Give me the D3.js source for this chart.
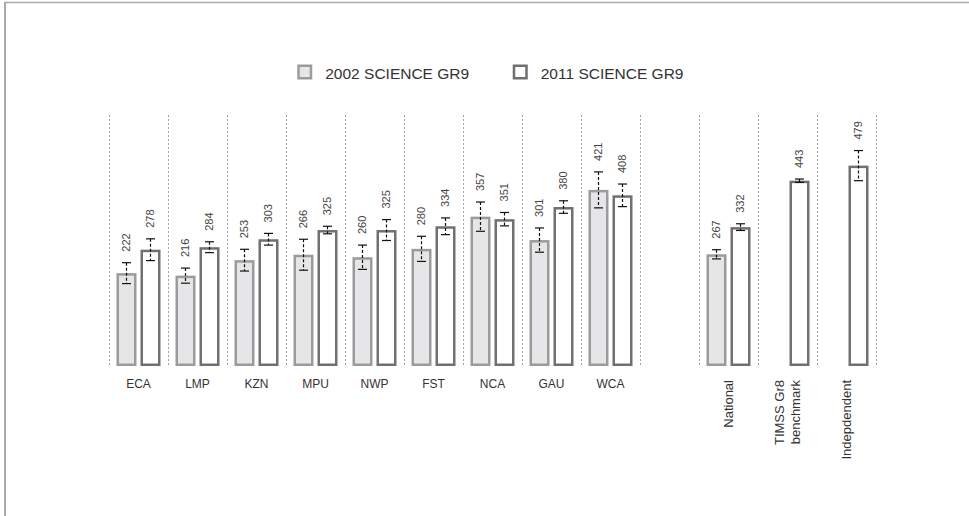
<!DOCTYPE html>
<html>
<head>
<meta charset="utf-8">
<script src="https://cdn.jsdelivr.net/npm/d3@7/dist/d3.min.js"></script>
<style>
  html, body { margin: 0; padding: 0; background: #fff; }
  svg { display: block; font-family: "Liberation Sans", Arial, sans-serif; }
</style>
</head>
<body>
<svg id="chart" width="969" height="516"></svg>
<script>
// ---- data ----
const categories = ["ECA", "LMP", "KZN", "MPU", "NWP", "FST", "NCA", "GAU", "WCA", "National", "TIMSS Gr8 benchmark", "Indepdendent"];
const rotatedCategories = ["National", "TIMSS Gr8 benchmark", "Indepdendent"];
const seriesNames = ["2002 SCIENCE GR9", "2011 SCIENCE GR9"];
const values2002 = [222, 216, 253, 266, 260, 280, 357, 301, 421, 267, null, null];
const values2011 = [278, 284, 303, 325, 325, 334, 351, 380, 408, 332, 443, 479];
const err2002 = [25, 18, 26, 37, 29, 30, 35, 29, 43, 11, null, null];
const err2011 = [26, 13, 14, 9, 25, 20, 16, 15, 27, 8, 4, 36];

// ---- layout ----
const svg = d3.select("#chart");
const W = 969, H = 516;
const SPACER = "__gap__";
const domain = categories.slice(0, 9).concat([SPACER]).concat(categories.slice(9));

const x = d3.scaleBand().domain(domain).range([109, 876]).padding(0);
const xs = d3.scaleBand().domain(["2002", "2011"]).range([0, x.bandwidth()])
  .paddingInner(1 / 6).paddingOuter(0.3125);
const y = d3.scaleLinear().domain([0, 600]).range([366, 115]);

const styles = {
  "2002": { fill: "#e6e6e8", stroke: "#9b9b9b" },
  "2011": { fill: "#ffffff", stroke: "#707070" }
};
const SW = 2.5;

// frame
svg.append("line").attr("x1", 4).attr("x2", W).attr("y1", 2.5).attr("y2", 2.5)
  .attr("stroke", "#aaaaaa").attr("stroke-width", 1.5);
svg.append("line").attr("x1", 5).attr("x2", 5).attr("y1", 2).attr("y2", H)
  .attr("stroke", "#aaaaaa").attr("stroke-width", 2);

// dashed separators at every band edge
const edges = domain.map(d => x(d)).concat([x(domain[domain.length - 1]) + x.bandwidth()]);
svg.append("g").selectAll("line").data(edges).join("line")
  .attr("x1", d => d + 0.5).attr("x2", d => d + 0.5)
  .attr("y1", y(600)).attr("y2", y(0))
  .attr("stroke", "#a0a0a0").attr("stroke-width", 1).attr("stroke-dasharray", "2,2");

// build records
const recs = [];
categories.forEach((c, i) => {
  if (values2002[i] != null) recs.push({ cat: c, s: "2002", v: values2002[i], e: err2002[i] });
  if (values2011[i] != null) recs.push({ cat: c, s: "2011", v: values2011[i], e: err2011[i] });
});

// bars
svg.append("g").selectAll("rect").data(recs).join("rect")
  .attr("x", d => x(d.cat) + xs(d.s) + SW / 2)
  .attr("width", xs.bandwidth() - SW)
  .attr("y", d => y(d.v) + SW / 2)
  .attr("height", d => y(0) - y(d.v) - SW)
  .attr("fill", d => styles[d.s].fill)
  .attr("stroke", d => styles[d.s].stroke)
  .attr("stroke-width", SW);

// error bars
const eg = svg.append("g").attr("stroke", "#111").attr("stroke-width", 1.2);
recs.forEach(d => {
  const cx = x(d.cat) + xs(d.s) + xs.bandwidth() / 2;
  const y1 = y(d.v + d.e), y2 = y(d.v - d.e);
  eg.append("line").attr("x1", cx).attr("x2", cx).attr("y1", y1).attr("y2", y2)
    .attr("stroke-dasharray", "3,2");
  [y1, y2].forEach(yy => {
    eg.append("line").attr("x1", cx - 4.5).attr("x2", cx + 4.5).attr("y1", yy).attr("y2", yy);
  });
});

// value labels
svg.append("g").selectAll("text").data(recs).join("text")
  .attr("transform", d => {
    const cx = x(d.cat) + xs(d.s) + xs.bandwidth() / 2;
    return `translate(${cx},${y(d.v + d.e) - 11}) rotate(-90)`;
  })
  .attr("dy", "0.35em")
  .attr("text-anchor", "start")
  .attr("font-size", 11)
  .attr("fill", "#444")
  .text(d => d.v);

// category labels
const lab = svg.append("g").attr("fill", "#333");
categories.forEach(c => {
  const cx = x(c) + x.bandwidth() / 2;
  if (rotatedCategories.indexOf(c) < 0) {
    lab.append("text").attr("x", cx).attr("y", 388).attr("text-anchor", "middle")
      .attr("font-size", 12).text(c);
  } else {
    const words = c === "TIMSS Gr8 benchmark" ? ["TIMSS Gr8", "benchmark"] : [c];
    const lh = 16.5;
    words.forEach((w, k) => {
      const off = (k - (words.length - 1) / 2) * lh;
      lab.append("text")
        .attr("transform", `translate(${cx + off},380) rotate(-90)`)
        .attr("dy", "0.35em")
        .attr("text-anchor", "end")
        .attr("font-size", 13).text(w);
    });
  }
});

// legend
const legendX = [297.25, 512.75];
const lg = svg.append("g");
seriesNames.forEach((n, i) => {
  const s = i === 0 ? "2002" : "2011";
  lg.append("rect").attr("x", legendX[i] + SW / 2).attr("y", 64.5 + SW / 2)
    .attr("width", 15 - SW).attr("height", 15 - SW)
    .attr("fill", styles[s].fill).attr("stroke", styles[s].stroke).attr("stroke-width", SW);
  lg.append("text").attr("x", legendX[i] + 28).attr("y", 78.5)
    .attr("font-size", 15.5).attr("fill", "#333").text(n);
});
</script>
</body>
</html>
